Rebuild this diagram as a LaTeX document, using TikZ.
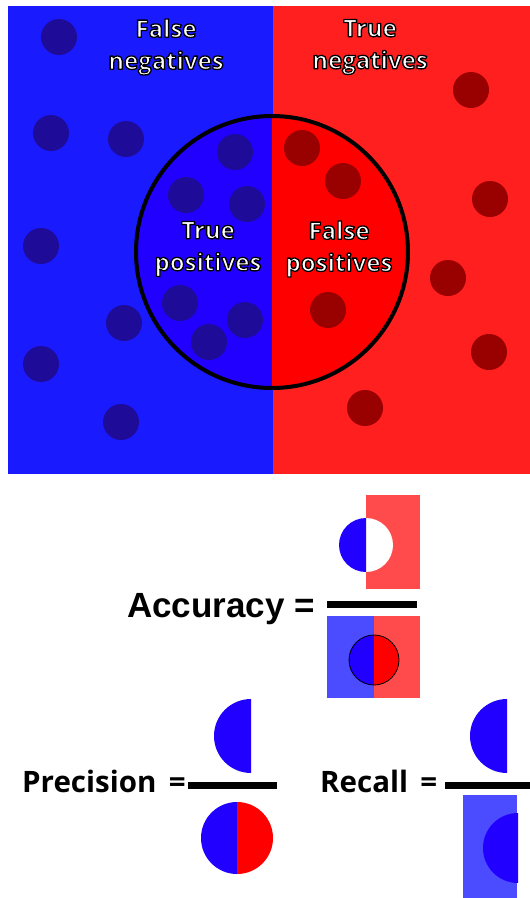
\documentclass[tikz,border=0pt]{standalone}
\usepackage{fontspec}
\setmainfont{Open Sans}
\newfontfamily\arialb{Liberation Sans}[BoldFont={* Bold}]
\newcommand{\outl}[1]{{\color{white}\special{pdf:literal direct 2 Tr 1.3 w 0 G 1 j}#1\special{pdf:literal direct 0 Tr}}}
\definecolor{bgblue}{HTML}{1A1AFF}
\definecolor{bgred}{HTML}{FF1F1F}
\definecolor{inblue}{HTML}{2200FF}
\definecolor{inred}{HTML}{FF0000}
\definecolor{dotblue}{HTML}{1E0C99}
\definecolor{dotred}{HTML}{990000}
\definecolor{ltblue}{HTML}{4B4BFF}
\definecolor{ltred}{HTML}{FF4B4B}
\begin{document}
\begin{tikzpicture}[x=1pt,y=-1pt,
  lab/.style={font=\fontsize{24}{32}\selectfont\bfseries, align=center, inner sep=0pt},
  bdot/.style={fill=dotblue},
  rdot/.style={fill=dotred},
  fbar/.style={line width=7pt},
  eqtxt/.style={font=\fontsize{29.5}{30}\selectfont\bfseries, anchor=base west, inner sep=0pt},
]
\useasboundingbox (0,0) rectangle (530,898);
% top panel
\fill[bgblue] (8,6) rectangle (273,474);
\fill[bgred] (273,6) rectangle (530,474);
\fill[inblue] (272,252) ++(0,136) arc[start angle=90,end angle=270,radius=136] -- cycle;
\fill[inred] (272,252) ++(0,136) arc[start angle=90,end angle=-90,radius=136] -- cycle;
\fill[inred] (272,116) rectangle (274,388);
% dots
\foreach \x/\y in {59/37,51/133,126/139,235/152,186/195,247/204,41/246,180/303,124/323,245/320,209/342,41/364,121/422}
  \fill[bdot] (\x,\y) circle[radius=18];
\foreach \x/\y in {471/90,302/148,343/181,490/199,448/278,328/310,489/352,365/408}
  \fill[rdot] (\x,\y) circle[radius=18];
\draw[line width=4pt] (272,252) circle[radius=136];
% labels
\node[lab] (fn) at (166,47) {\outl{False}\\\outl{negatives}};
\node[lab] (tn) at (370,47) {\outl{True}\\\outl{negatives}};
\node[lab] (tp) at (208,249) {\outl{True}\\\outl{positives}};
\node[lab] (fp) at (339,249) {\outl{False}\\\outl{positives}};
% Accuracy
\fill[ltred] (366,495) rectangle (420,589);
\fill[white] (366,545) ++(0,27) arc[start angle=90,end angle=-90,radius=27] -- cycle;
\fill[inblue] (366,545) ++(0,27) arc[start angle=90,end angle=270,radius=27] -- cycle;
\draw[fbar] (327,604) -- (417,604);
\fill[ltblue] (327,616) rectangle (374,698);
\fill[ltred] (374,616) rectangle (420,698);
\fill[inblue] (374,660) ++(0,25) arc[start angle=90,end angle=270,radius=25] -- cycle;
\fill[inred] (374,660) ++(0,25) arc[start angle=90,end angle=-90,radius=25] -- cycle;
\draw[line width=0.8pt] (374,660) circle[radius=25];
\node[font=\arialb\fontsize{35}{36}\selectfont\bfseries, anchor=base west, inner sep=0pt] (acc) at (127,617) {Accuracy =};
% Precision
\fill[inblue] (251,736) ++(0,37) arc[start angle=90,end angle=270,radius=37] -- cycle;
\draw[fbar] (188,785) -- (277,785);
\fill[inblue] (237,838) ++(0,36) arc[start angle=90,end angle=270,radius=36] -- cycle;
\fill[inred] (237,838) ++(0,36) arc[start angle=90,end angle=-90,radius=36] -- cycle;
\node[eqtxt] (prec) at (22,792) {Precision\hspace{0.42em}=};
% Recall
\fill[inblue] (507,736) ++(0,37) arc[start angle=90,end angle=270,radius=37] -- cycle;
\draw[fbar] (445,785) -- (530,785);
\fill[ltblue] (463,795) rectangle (517,898);
\fill[inblue] (518,848) ++(0,35) arc[start angle=90,end angle=270,radius=35] -- cycle;
\node[eqtxt] (rec) at (320,792) {Recall\hspace{0.42em}=};
\end{tikzpicture}
\end{document}
